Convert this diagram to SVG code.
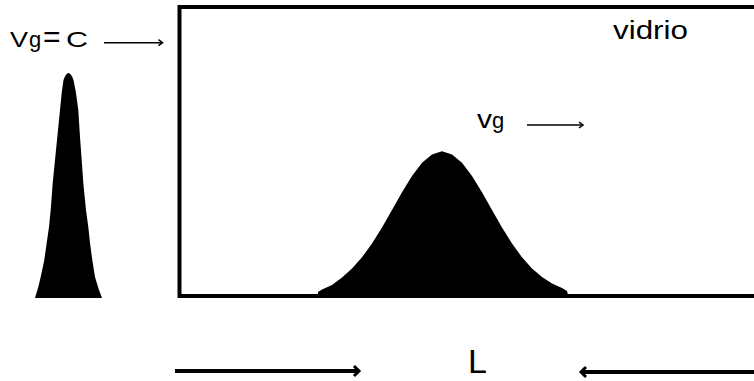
<svg xmlns="http://www.w3.org/2000/svg" width="754" height="381" viewBox="0 0 754 381">
<style>
text{font-family:"Liberation Sans",Arial,sans-serif;fill:#000}
.thin{stroke:#000;stroke-width:1.5;fill:none}
.thick{stroke:#000;stroke-width:4;fill:none}
.pulse{fill:#000;stroke:none}
</style>
<defs>
<marker id="ah" markerWidth="10" markerHeight="10" refX="8" refY="5" orient="auto" markerUnits="userSpaceOnUse">
<path d="M4,2 L8,5 L4,8" fill="none" stroke="#000" stroke-width="1.5"/>
</marker>
<marker id="ahb" markerWidth="14" markerHeight="14" refX="10" refY="7" orient="auto" markerUnits="userSpaceOnUse">
<path d="M5,2 L10,7 L5,12" fill="none" stroke="#000" stroke-width="3"/>
</marker>
</defs>
<rect width="754" height="381" fill="#fff"/>
<g id="glass">
<path class="thick" d="M760,7 H179.5 V296 H760"/>
<text x="613" y="39" font-size="26" textLength="75" lengthAdjust="spacingAndGlyphs">vidrio</text>
</g>
<g id="pulse-in">
<path class="pulse" d="M35,298 L38.3,287 L40.7,277 L44.3,260 L46.7,243 L49,227 L50.7,210 L52.7,183 L55,160 L57.3,137 L60,110 L61.7,93 L63.5,80 Q68.5,66 73.5,80 L76,93 L78.3,110 L80,137 L81.7,160 L83.3,183 L86,210 L88.3,227 L90,243 L92.3,260 L95,277 L99,290 L102,298 Z"/>
</g>
<g id="pulse-glass">
<path class="pulse" d="M318,295 L318,292 L322,289.5 L332,285 L342,277.5 L352,268.4 L362,257.3 L372,243.5 L382,227.5 L392,209.9 L402,192.2 L412,175.9 L422,162.7 L432,154.5 L442,151.3 L452,154.5 L462,162.7 L472,175.9 L482,192.2 L492,209.9 L502,227.5 L512,243.5 L522,257.3 L532,268.4 L542,276.9 L552,283.5 L562,288 L567,291 L568,295 Z"/>
</g>
<g id="label-vgc">
<text x="10" y="47" font-size="22" textLength="18" lengthAdjust="spacingAndGlyphs">V</text>
<text x="29" y="47" font-size="22">g</text>
<text x="43" y="47" font-size="30">=</text>
<text x="66" y="47" font-size="22" textLength="22" lengthAdjust="spacingAndGlyphs">C</text>
</g>
<g id="label-vg">
<text x="477" y="128.3" font-size="26" textLength="15" lengthAdjust="spacingAndGlyphs">v</text>
<text x="492" y="128.3" font-size="22">g</text>
</g>
<g id="label-L">
<text x="468" y="373" font-size="34">L</text>
</g>
<g id="connectors">
<line class="thin" x1="104" y1="42.7" x2="162.5" y2="42.7" marker-end="url(#ah)"/>
<line class="thin" x1="527" y1="125" x2="583" y2="125" marker-end="url(#ah)"/>
<line class="thick" x1="175" y1="371" x2="359" y2="371" marker-end="url(#ahb)"/>
<line class="thick" x1="760" y1="372" x2="581" y2="372" marker-end="url(#ahb)"/>
</g>
</svg>
